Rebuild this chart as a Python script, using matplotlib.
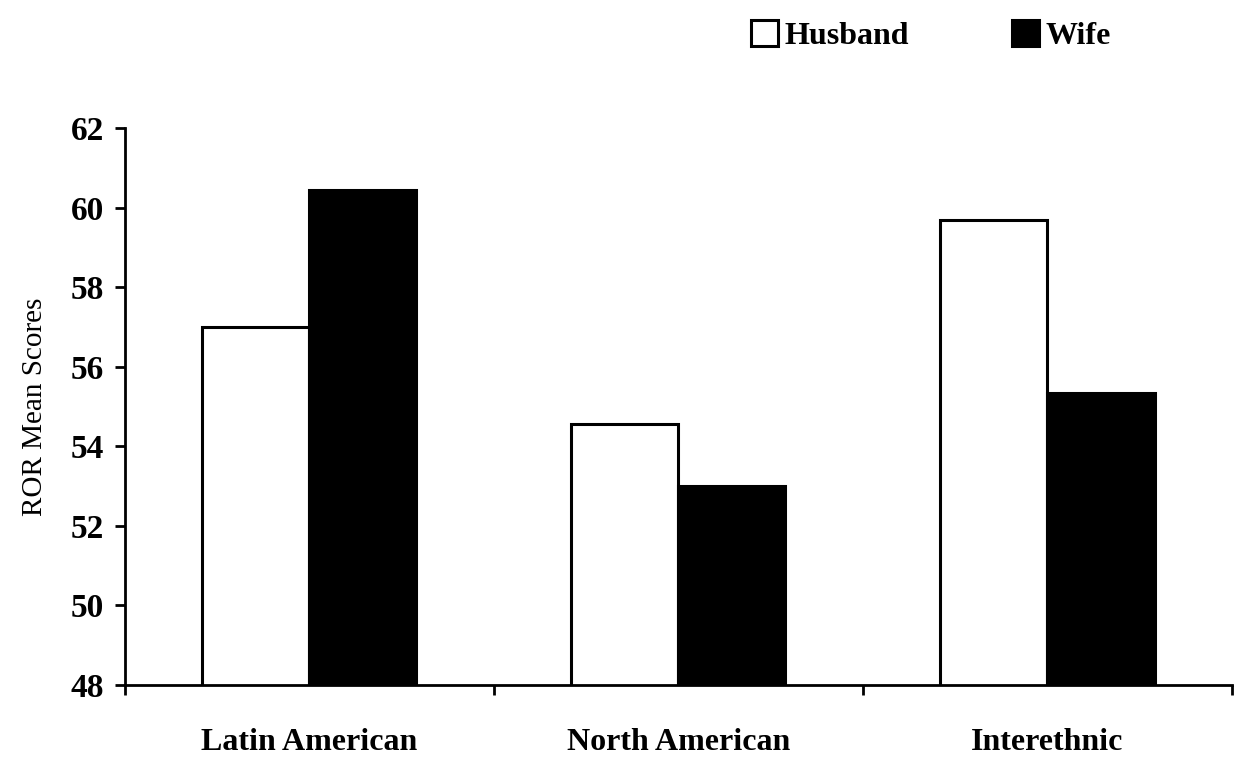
import matplotlib.pyplot as plt
import numpy as np

groups = ["Latin American", "North American", "Interethnic"]
husband = [57.0, 54.55, 59.7]
wife = [60.45, 53.0, 55.35]
yticks = [48, 50, 52, 54, 56, 58, 60, 62]

plt.rcParams['font.family'] = ['Liberation Serif', 'DejaVu Serif']

fig = plt.figure(figsize=(12.35, 7.62), dpi=100)
ax = fig.add_axes([0.101, 0.101, 0.8966, 0.731])

x = np.arange(len(groups))
w = 0.29
ax.bar(x - w / 2, husband, w, color='white', edgecolor='black', linewidth=2.2, label='Husband')
ax.bar(x + w / 2, wife, w, color='black', edgecolor='black', linewidth=2.2, label='Wife')

ax.set_ylim(48, 62)
ax.set_xlim(-0.5, 2.5)
ax.set_yticks(yticks)
ax.set_yticklabels([str(t) for t in yticks], fontsize=24, fontweight='bold')
ax.set_xticks(x)
ax.set_xticklabels(groups, fontsize=23, fontweight='bold')
ax.tick_params(axis='x', length=0, pad=31)
ax.set_xticks([-0.5, 0.5, 1.5, 2.5], minor=True)
ax.tick_params(axis='x', which='minor', length=7, width=2, direction='out')
ax.tick_params(axis='y', length=7, width=2, direction='out', pad=8)
ax.set_ylabel('ROR Mean Scores', fontsize=21, labelpad=16)

for s in ['top', 'right']:
    ax.spines[s].set_visible(False)
for s in ['left', 'bottom']:
    ax.spines[s].set_linewidth(2)

fig.legend(loc='upper left', bbox_to_anchor=(0.598, 0.99), ncol=2, frameon=False,
           prop={'size': 23, 'weight': 'bold'}, handlelength=0.85, handleheight=0.85,
           handletextpad=0.2, columnspacing=3.2, borderaxespad=0)

fig.savefig('out.png', dpi=100)
